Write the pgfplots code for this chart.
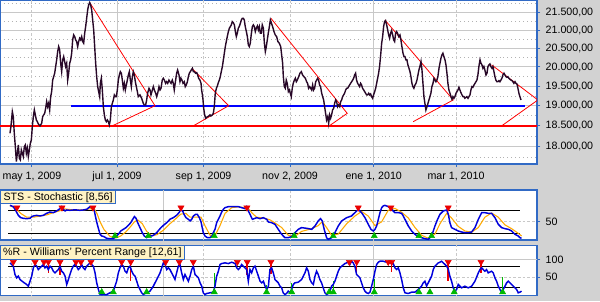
\documentclass[border=0pt]{standalone}
\usepackage{fontspec}
\setmainfont{Liberation Sans}
\usepackage{pgfplots}
\pgfplotsset{compat=1.18}

\definecolor{panelblue}{RGB}{49,106,197}
\definecolor{bggray}{RGB}{210,210,210}
\definecolor{pricecol}{RGB}{40,8,40}
\definecolor{gridgray}{RGB}{200,200,200}
\definecolor{dotgray}{RGB}{178,178,178}
\definecolor{lblbg}{RGB}{255,243,196}
\definecolor{stoorange}{RGB}{255,170,0}
\definecolor{stoblue}{RGB}{0,0,220}
\definecolor{trired}{RGB}{235,0,0}
\definecolor{trigreen}{RGB}{0,185,0}

\pgfplotsset{
  panel/.style={
    scale only axis, width=402.75pt,
    xmin=-22.94, xmax=362.07,
    axis background/.style={fill=white},
    axis line style={panelblue, line width=0.9pt},
    tick align=outside, major tick length=2.5pt, minor tick length=0pt,
    tick style={panelblue, line width=0.75pt},
    ytick pos=right, yticklabel pos=right,
    ticklabel style={font=\fontsize{8}{9}\selectfont, text=black},
    yticklabel style={xshift=0.5pt},
  },
}

\begin{document}
\begin{tikzpicture}
\useasboundingbox (0pt,0pt) rectangle (450pt,-225.75pt);
\fill[bggray] (0pt,0pt) rectangle (450pt,-225.75pt);

% ---------------- main price panel ----------------
\begin{axis}[panel,
  at={(0pt,0pt)}, anchor=north west, height=123pt,
  ymode=log, ymin=17592, ymax=21854,
  xtick={0,61,123,185,245,304},
  xticklabels={{may 1, 2009},{jul 1, 2009},{sep 1, 2009},{nov 2, 2009},{ene 1, 2010},{mar 1, 2010}},
  xtick pos=left,
  minor x tick num=5,
  ytick={18000,18500,19000,19500,20000,20500,21000,21500},
  yticklabels={{18.000,00},{18.500,00},{19.000,00},{19.500,00},{20.000,00},{20.500,00},{21.000,00},{21.500,00}},
  minor ytick={17750,18250,18750,19250,19750,20250,20750,21250,21750},
  ymajorgrids, yminorgrids, xminorgrids,
  major grid style={gridgray, line width=0.75pt},
  minor grid style={dotgray, line width=0.55pt, dash pattern=on 0.55pt off 2.4pt},
]
% vertical grid lines
\addplot[gridgray, line width=0.75pt, dash pattern=on 2pt off 1.5pt, forget plot] coordinates {(0,17000) (0,23000)};
\addplot[gridgray, line width=0.75pt, dash pattern=on 2pt off 1.5pt, forget plot] coordinates {(123,17000) (123,23000)};
\addplot[gridgray, line width=0.75pt, dash pattern=on 2pt off 1.5pt, forget plot] coordinates {(185,17000) (185,23000)};
\addplot[gridgray, line width=0.75pt, dash pattern=on 2pt off 1.5pt, forget plot] coordinates {(304,17000) (304,23000)};
\addplot[gridgray, line width=0.75pt, forget plot] coordinates {(61,17000) (61,23000)};
\addplot[gridgray, line width=0.75pt, forget plot] coordinates {(245,17000) (245,23000)};
% support / resistance lines
\addplot[red, line width=1.2pt, forget plot] coordinates {(-22.94,18500) (362.07,18500)};
\addplot[blue, line width=1.2pt, forget plot] coordinates {(28,19000) (353.4,19000)};
% triangle patterns
\addplot[red, line width=0.6pt, forget plot] coordinates {(41.4,21777) (88.2,19000) (57.5,18500)};
\addplot[red, line width=0.6pt, forget plot] coordinates {(114.7,19965) (141,19000) (115.6,18500)};
\addplot[red, line width=0.6pt, forget plot] coordinates {(171.3,21330) (226,18811) (213.1,18500)};
\addplot[red, line width=0.6pt, forget plot] coordinates {(253,21283) (302,19146) (273.3,18605)};
\addplot[red, line width=0.6pt, forget plot] coordinates {(329.5,20054) (362.7,19146) (336.7,18500)};
% price
\addplot[pricecol, line width=1.05pt] coordinates {
(-15.8,18320) (-15.1,18483) (-14.1,18853) (-13.4,18729) (-12.7,18320) (-11.95,18000) (-11.2,17647)
(-10.5,17842) (-9.8,18040) (-9.08,17725) (-8.36,17686) (-7.64,17921) (-6.93,17842) (-6.21,17764)
(-5.49,18000) (-4.78,18040) (-4.06,17842) (-3.34,17960) (-2.63,17764) (-1.91,17921) (-1.19,18080)
(-0.47,18159) (0.24,18483) (0.96,18729) (1.68,18895) (2.39,18770) (3.11,18646) (3.83,18605)
(4.55,18548) (5.74,18499) (6.94,18564) (7.65,18729) (8.37,18770) (9.09,18811) (9.8,18936)
(10.52,19104) (11.24,18978) (11.95,19062) (12.67,18895) (13.39,19231) (14.1,19358) (14.82,19659)
(15.54,19746) (16.26,19834) (16.97,20009) (17.69,20187) (18.41,20410) (19.12,20546) (19.84,20455)
(20.56,20098) (21.28,19877) (21.99,20187) (22.71,20276) (23.43,20142) (24.14,20009) (24.86,20098)
(25.58,19659) (26.29,19834) (27.01,20098) (27.73,20187) (28.45,20365) (29.16,20728) (29.88,20865)
(30.6,20819) (31.31,20728) (32.03,20682) (32.75,20546) (33.46,20682) (34.18,20773) (34.9,20728)
(35.62,20819) (36.33,20682) (37.05,20637) (37.77,20911) (38.48,21097) (39.2,21330) (39.92,21567)
(40.63,21710) (41.35,21777) (42.07,21710) (42.79,21567) (43.5,21283) (44.22,21004) (44.94,20546)
(45.65,20098) (46.37,19746) (47.09,19487) (47.8,19358) (48.52,19231) (49.0,19573) (49.72,19702)
(50.43,19401) (51.15,18978) (51.87,18770) (52.58,18646) (53.3,18605) (54.02,18646) (54.74,18605)
(55.45,18523) (56.17,18646) (56.89,18978) (57.6,19062) (58.32,19146) (59.04,19273) (59.75,19231)
(60.47,19231) (61.19,19401) (61.9,19659) (62.62,19790) (63.34,19877) (64.06,19834) (64.77,19659)
(65.49,19444) (66.21,19573) (66.92,19401) (67.64,19530) (68.36,19659) (69.07,19790) (69.79,19877)
(70.51,19659) (71.23,19487) (71.94,19746) (72.66,19877) (73.38,19790) (74.09,19616) (74.81,19487)
(75.53,19358) (76.2,19231) (77.4,19273) (78.6,19189) (79.8,19062) (80.5,19020) (81.5,19020)
(82.2,19146) (82.9,19316) (83.9,19444) (84.6,19401) (85.3,19273) (86.3,19401) (87.0,19487)
(87.7,19401) (88.7,19316) (89.4,19231) (90.1,19316) (91.05,19487) (91.8,19401) (92.5,19444)
(93.4,19659) (94.15,19702) (94.9,19659) (95.8,19573) (96.5,19616) (97.3,19573) (98.2,19659)
(98.9,19616) (99.7,19573) (100.6,19659) (101.3,19573) (102.0,19401) (103.0,19659) (103.7,19834)
(104.4,19921) (105.4,19790) (106.1,19616) (106.8,19702) (107.5,19659) (108.3,19573) (109.2,19616)
(109.9,19487) (110.6,19530) (111.4,19616) (112.1,19746) (112.8,19834) (113.5,19877) (114.2,19921)
(115.0,19965) (115.7,19877) (116.4,19877) (117.3,19834) (118.1,19851) (118.8,19790) (119.5,19702)
(120.4,19659) (121.2,19573) (121.6,19401) (122.4,19231) (123.1,18936) (123.8,18770) (124.5,18688)
(125.2,18712) (125.9,18729) (126.9,18745) (127.6,18770) (128.3,18745) (129.3,18770) (130.0,18811)
(130.7,18978) (131.4,19316) (132.2,19444) (132.9,19504) (133.6,19590) (134.3,19659) (135.0,19746)
(135.7,19877) (136.5,20009) (137.2,20187) (137.9,20365) (138.6,20546) (139.3,20682) (140.0,20819)
(140.8,20958) (141.5,21050) (142.2,21097) (142.9,21144) (143.6,21237) (144.3,21209) (145.1,21144)
(145.8,20958) (146.5,20819) (147.2,20911) (147.9,21050) (148.6,21097) (149.4,21190) (150.1,21283)
(150.8,21330) (151.5,21330) (152.2,21283) (152.9,21097) (153.7,20958) (154.4,20819) (155.1,20591)
(155.8,20546) (156.5,20637) (157.3,20911) (158.0,21097) (158.7,21144) (159.4,21097) (160.1,20958)
(160.8,21050) (161.6,21116) (162.3,21004) (163.0,21097) (163.7,20911) (164.4,20911) (165.1,21144)
(165.9,21050) (166.6,20637) (167.3,20410) (168.0,20546) (168.7,20728) (169.4,20911) (170.2,21097)
(170.9,21283) (172.5,21097) (173.5,20958) (174.4,20865) (175.4,20819) (176.3,20682) (177.3,20637)
(178.3,20546) (179.0,20320) (179.7,20098) (180.2,19746) (180.9,19487) (181.6,19444) (182.3,19659)
(183.0,19573) (183.8,19358) (184.5,19401) (185.2,19316) (185.9,19231) (186.6,19444) (187.3,19573)
(188.1,19659) (188.8,19702) (189.5,19616) (190.2,19659) (191.2,19746) (192.1,19834) (193.1,19877)
(194.0,19790) (195.0,19746) (196.0,19702) (196.9,19616) (197.6,19573) (198.3,19444) (199.1,19487)
(199.8,19444) (200.5,19401) (201.2,19530) (201.9,19401) (202.6,19444) (203.4,19616) (204.1,19659)
(204.8,19702) (205.5,19659) (206.2,19530) (206.9,19487) (207.7,19316) (208.4,19231) (209.1,19146)
(209.8,18978) (210.5,18811) (211.2,18646) (212.0,18729) (212.7,18564) (213.4,18770) (214.1,18688)
(214.8,18770) (215.5,18895) (216.3,18936) (217.0,19062) (217.7,19146) (218.4,19104) (219.1,18978)
(219.8,19020) (220.6,18978) (221.3,19104) (222.0,19146) (222.7,19231) (223.4,19273) (224.1,19316)
(224.9,19401) (225.6,19444) (226.3,19444) (227.0,19487) (227.7,19530) (228.4,19573) (229.2,19616)
(229.9,19659) (230.6,19702) (231.3,19790) (232.0,19834) (232.7,19659) (233.5,19573) (234.2,19530)
(234.9,19487) (235.6,19573) (236.3,19530) (237.0,19444) (237.8,19401) (238.5,19358) (239.2,19316)
(239.9,19273) (240.6,19273) (241.4,19316) (242.1,19273) (242.8,19299) (243.5,19231) (244.2,19189)
(244.9,19273) (245.7,19358) (246.4,19444) (247.1,19573) (247.8,19702) (248.5,19834) (249.2,20009)
(250.0,20320) (250.7,20637) (251.4,20819) (252.1,21097) (252.8,21237) (253.5,21264) (254.3,21144)
(255.0,21004) (255.7,20865) (256.4,20773) (257.1,20911) (257.8,20986) (258.6,20865) (259.3,20728)
(260.0,20682) (260.7,20911) (261.4,20958) (262.1,20911) (262.9,20819) (263.8,20865) (264.5,20728)
(265.2,20546) (266.0,20365) (266.7,20276) (267.4,20276) (268.1,20187) (268.8,20187) (269.5,20054)
(270.3,19965) (271.0,19877) (271.7,19746) (272.4,19573) (273.1,19487) (273.8,19444) (274.6,19530)
(275.3,19573) (276.0,19659) (276.7,19790) (277.4,19921) (278.1,20009) (278.9,20142) (279.6,19921)
(280.3,19573) (281.0,19231) (281.7,19062) (282.4,18895) (283.2,18978) (283.9,19062) (284.6,19146)
(285.3,19231) (286.0,19316) (286.7,19487) (287.5,19573) (288.2,19702) (288.9,19659) (289.6,19616)
(290.3,19659) (291.0,19746) (291.8,19965) (292.5,20098) (293.2,20231) (293.9,20320) (294.6,20365)
(295.3,20276) (296.1,20187) (296.8,20054) (297.5,19834) (298.2,19573) (298.9,19401) (299.7,19316)
(300.4,19231) (301.1,19163) (301.8,19231) (302.5,19189) (303.2,19231) (304.0,19316) (304.7,19358)
(305.4,19401) (306.1,19470) (306.8,19401) (307.5,19333) (308.3,19273) (309.0,19231) (309.7,19231)
(310.4,19189) (311.1,19214) (311.8,19231) (312.6,19189) (313.3,19231) (314.0,19273) (314.7,19401)
(315.4,19487) (316.1,19470) (316.9,19530) (317.6,19573) (318.3,19616) (319.0,19659) (319.7,19790)
(320.4,20009) (321.2,20187) (321.9,20098) (322.6,20054) (323.3,19965) (324.0,20009) (324.7,19921)
(325.5,19790) (326.2,19834) (326.9,20009) (327.6,20054) (328.3,20080) (329.0,20009) (329.8,19965)
(330.5,20009) (331.2,19877) (331.9,19746) (332.6,19659) (333.3,19616) (334.1,19616) (334.8,19642)
(335.5,19616) (336.2,19659) (336.9,19702) (337.6,19790) (338.4,19834) (339.1,19790) (339.8,19746)
(340.5,19729) (341.2,19746) (341.9,19702) (342.7,19677) (343.4,19659) (344.1,19642) (344.8,19616)
(345.5,19573) (346.3,19616) (347.0,19573) (347.7,19556) (348.4,19444) (349.1,19316) (349.8,19231)
(350.6,19146)
};
\end{axis}

% ---------------- Stochastic panel ----------------
\begin{axis}[panel,
  at={(0pt,-142.5pt)}, anchor=north west, height=37.5pt,
  ymin=2.5, ymax=133,
  xtick=\empty,
  ytick={50}, yticklabels={50},
  ymajorgrids, major grid style={gridgray, line width=0.75pt, dash pattern=on 2pt off 1.5pt},
]
\addplot[gridgray, line width=0.75pt, dash pattern=on 2pt off 1.5pt, forget plot] coordinates {(0,-10) (0,200)};
\addplot[gridgray, line width=0.75pt, dash pattern=on 2pt off 1.5pt, forget plot] coordinates {(123,-10) (123,200)};
\addplot[gridgray, line width=0.75pt, dash pattern=on 2pt off 1.5pt, forget plot] coordinates {(185,-10) (185,200)};
\addplot[gridgray, line width=0.75pt, dash pattern=on 2pt off 1.5pt, forget plot] coordinates {(304,-10) (304,200)};
\addplot[gridgray, line width=0.75pt, forget plot] coordinates {(94,-10) (94,200)};
\addplot[gridgray, line width=0.75pt, forget plot] coordinates {(245,-10) (245,200)};
\addplot[black, line width=0.9pt, forget plot] coordinates {(-17,80) (350,80)};
\addplot[black, line width=0.9pt, forget plot] coordinates {(-17,20) (350,20)};
% %D (orange)
\addplot[stoorange, line width=0.8pt] coordinates {
(-15.8,92) (-11.5,85) (-8.1,72) (-3.8,62) (0.96,62) (5.7,65) (10.5,68) (15.3,74) (20.1,79) (22.5,84)
(27.2,82) (32.0,81) (36.8,81) (41.6,84) (44.7,84) (46.8,70) (48.8,50) (51.6,30) (55.9,12) (60.2,8)
(63.6,13) (67.4,24) (70.8,38) (73.4,50) (75.8,55) (79.1,45) (82.2,25) (85.8,14) (89.4,16) (94.2,28)
(98.9,45) (103.7,60) (106.6,70) (110.4,72) (113.3,62) (117.4,62) (121.2,62) (124.0,40) (127.6,15)
(131.2,14) (134.8,40) (138.4,72) (143.2,87) (147.9,89) (152.7,87) (155.1,85) (158.0,72) (161.1,62)
(165.9,60) (170.7,55) (174.2,47) (179.0,35) (183.7,15) (188.5,12) (193.3,25) (200.5,32) (205.2,40)
(208.1,50) (211.2,35) (214.8,15) (219.6,18) (225.6,45) (231.5,65) (236.3,77) (241.1,65) (245.9,40)
(250.7,50) (255.4,80) (260.2,85) (265.0,75) (269.8,60) (274.6,35) (279.3,15) (284.1,7) (288.9,18)
(292.5,45) (297.3,72) (300.8,60) (305.6,38) (310.4,26) (315.2,23) (320.0,35) (324.7,62) (329.5,73)
(334.3,62) (339.1,42) (343.9,32) (348.6,20) (351.0,13)
};
% %K (blue)
\addplot[stoblue, line width=1.1pt] coordinates {
(-15.8,93.0) (-13.4,89.6) (-11.5,78.3) (-9.8,66.9) (-8.1,60.8) (-6.2,59.1) (-3.8,58.2) (-1.4,59.1)
(-0.2,63.5) (0.96,65.2) (3.3,66.9) (5.7,65.2) (8.1,66.9) (10.5,72.2) (12.9,75.6) (15.3,73.9)
(17.7,78.3) (20.1,84.3) (21.3,89.6) (22.5,82.6) (23.7,78.3) (24.9,80.9) (27.2,80.0) (29.6,80.9)
(32.0,80.9) (34.4,80.0) (36.8,80.9) (39.2,82.6) (41.6,89.6) (43.5,87.0) (44.7,78.3) (45.7,60.8)
(46.8,43.5) (47.8,30.4) (48.8,17.3) (50.0,13.0) (51.6,11.3) (53.5,6.9) (55.9,6.0) (58.3,6.0)
(60.2,11.3) (61.9,17.3) (63.6,26.0) (65.5,30.4) (67.4,34.8) (69.1,40.8) (70.8,47.8) (72.2,56.5)
(73.4,63.5) (74.6,59.1) (75.8,47.8) (77.4,34.8) (79.1,21.7) (80.5,13.0) (82.2,8.65) (83.4,11.3)
(84.6,14.7) (85.8,13.0) (87.0,14.7) (89.4,21.7) (91.8,32.1) (94.2,40.8) (96.6,47.8) (98.9,56.5)
(101.3,60.8) (103.7,66.9) (105.4,73.9) (106.6,80.9) (108.0,78.3) (109.0,69.6) (110.4,60.8)
(112.1,56.5) (113.3,52.2) (114.5,56.5) (115.7,65.2) (117.4,69.6) (118.5,69.6) (120.0,60.8)
(121.2,49.5) (122.8,21.7) (124.0,13.0) (125.7,8.65) (127.6,8.65) (129.1,13.0) (130.0,21.7)
(131.2,30.4) (132.4,47.8) (133.6,56.5) (134.8,65.2) (136.0,75.6) (137.2,82.6) (138.4,87.0)
(140.8,89.6) (143.2,89.6) (145.6,89.6) (147.9,89.6) (150.3,87.0) (152.7,84.3) (153.9,89.6)
(155.1,78.3) (156.3,69.6) (158.0,56.5) (159.9,59.1) (161.1,60.8) (163.5,58.2) (165.9,60.8)
(168.3,56.5) (169.5,49.5) (171.8,47.8) (174.2,43.5) (176.6,30.4) (179.0,17.3) (181.3,8.65)
(183.7,8.65) (186.1,11.3) (188.5,21.7) (190.9,30.4) (193.3,34.8) (196.9,33.0) (200.5,30.4)
(202.9,39.1) (205.2,52.2) (206.9,58.2) (208.1,52.2) (209.5,30.4) (211.2,8.65) (212.4,4.3)
(214.8,8.65) (217.2,21.7) (219.6,39.1) (222.0,52.2) (225.6,60.8) (229.1,65.2) (231.5,73.9)
(233.9,82.6) (236.3,73.9) (238.7,60.8) (241.1,43.5) (243.0,30.4) (244.7,26.0) (245.9,30.4)
(247.1,39.1) (248.3,56.5) (249.5,73.9) (250.7,87.0) (251.8,91.3) (253.0,93.0) (255.4,89.6)
(257.8,82.6) (260.2,73.9) (262.6,73.9) (265.0,72.2) (266.2,65.2) (267.4,56.5) (269.8,39.1)
(272.2,26.0) (274.6,17.3) (276.9,11.3) (279.3,8.65) (281.7,6.0) (284.1,4.3) (286.5,13.0)
(287.7,26.0) (288.9,39.1) (290.8,56.5) (292.5,69.6) (294.9,78.3) (297.3,80.9) (298.5,69.6)
(299.6,47.8) (300.8,34.8) (303.2,30.4) (305.6,26.0) (308.0,23.4) (310.4,21.7) (312.8,21.7)
(315.2,23.4) (317.6,34.8) (320.0,56.5) (322.4,73.9) (324.7,73.9) (327.1,72.2) (329.5,72.2)
(331.9,60.8) (334.3,43.5) (336.7,34.8) (339.1,32.1) (341.5,30.4) (343.9,26.0) (346.3,17.3)
(348.6,13.0) (349.8,8.65) (351.0,6.9)
};
\addplot[only marks, mark=triangle*, mark size=2.6pt, mark options={fill=trired, draw=trired, rotate=180}] coordinates {
(-10.8,86.8) (21.5,86.8) (43.7,86.8) (106.8,86.8) (154.1,86.8) (233.9,86.8) (257.3,86.8) (298.4,86.8)};
\addplot[only marks, mark=triangle*, mark size=2.6pt, mark options={fill=trigreen, draw=trigreen}] coordinates {
(59.5,13) (83.4,13) (130.7,13) (188.0,13) (216.0,13) (245.4,13) (277.4,13) (286.5,13)};
\node[anchor=north west, fill=lblbg, draw=panelblue, line width=0.75pt, font=\fontsize{8}{9}\selectfont,
  inner xsep=2.3pt, inner ysep=1pt, text height=6.3pt, text depth=1.8pt] at (rel axis cs:0,1) {STS - Stochastic [8,56]};
\end{axis}

% ---------------- Williams %R panel ----------------
\begin{axis}[panel,
  at={(0pt,-184pt)}, anchor=north west, height=37.5pt,
  ymin=-2.3, ymax=140.6,
  xtick=\empty,
  ytick={50,100}, yticklabels={50,100},
  ymajorgrids, major grid style={gridgray, line width=0.75pt, dash pattern=on 2pt off 1.5pt},
]
\addplot[gridgray, line width=0.75pt, forget plot] coordinates {(-30,100) (370,100)};
\addplot[gridgray, line width=0.75pt, dash pattern=on 2pt off 1.5pt, forget plot] coordinates {(0,-10) (0,200)};
\addplot[gridgray, line width=0.75pt, dash pattern=on 2pt off 1.5pt, forget plot] coordinates {(123,-10) (123,200)};
\addplot[gridgray, line width=0.75pt, dash pattern=on 2pt off 1.5pt, forget plot] coordinates {(185,-10) (185,200)};
\addplot[gridgray, line width=0.75pt, dash pattern=on 2pt off 1.5pt, forget plot] coordinates {(304,-10) (304,200)};
\addplot[gridgray, line width=0.75pt, forget plot] coordinates {(94,-10) (94,200)};
\addplot[gridgray, line width=0.75pt, forget plot] coordinates {(245,-10) (245,200)};
\addplot[black, line width=0.9pt, forget plot] coordinates {(-17,80) (350,80)};
\addplot[black, line width=0.9pt, forget plot] coordinates {(-17,20) (350,20)};
% signal spikes
\addplot[trired, line width=1.1pt, forget plot] coordinates {(11.7,92) (11.7,62)};
\addplot[trired, line width=1.1pt, forget plot] coordinates {(20.1,92) (20.1,55)};
\addplot[trired, line width=1.1pt, forget plot] coordinates {(70.8,92) (70.8,38)};
\addplot[trired, line width=1.1pt, forget plot] coordinates {(154.3,92) (154.3,57)};
\addplot[trired, line width=1.1pt, forget plot] coordinates {(171.3,92) (171.3,60)};
\addplot[trired, line width=1.1pt, forget plot] coordinates {(232.8,92) (232.8,55)};
\addplot[trired, line width=1.1pt, forget plot] coordinates {(257.9,92) (257.9,65)};
\addplot[trired, line width=1.1pt, forget plot] coordinates {(298.4,92) (298.4,38)};
\addplot[trired, line width=1.1pt, forget plot] coordinates {(321.9,92) (321.9,62)};
\addplot[trigreen, line width=1.1pt, forget plot] coordinates {(130.7,7) (130.7,62)};
\addplot[trigreen, line width=1.1pt, forget plot] coordinates {(168.2,7) (168.2,28)};
\addplot[trigreen, line width=1.1pt, forget plot] coordinates {(186.1,7) (186.1,33)};
\addplot[trigreen, line width=1.1pt, forget plot] coordinates {(216.0,7) (216.0,38)};
\addplot[trigreen, line width=1.1pt, forget plot] coordinates {(245.4,7) (245.4,45)};
\addplot[trigreen, line width=1.1pt, forget plot] coordinates {(337.4,7) (337.4,50)};
\addplot[stoblue, line width=1.1pt] coordinates {
(-15.8,90.5) (-13.4,81.0) (-12.2,57.2) (-11.0,47.7) (-9.8,52.5) (-8.6,42.9) (-6.2,35.3) (-3.8,28.7)
(-2.6,23.9) (-1.4,38.2) (-0.2,52.5) (0.96,76.3) (2.2,85.8) (3.4,81.0) (4.5,71.5) (5.7,76.3) (6.9,81.0)
(8.1,85.8) (9.3,76.3) (10.5,81.0) (11.7,71.5) (12.9,81.0) (14.1,76.3) (15.3,66.7) (16.5,62.0)
(17.7,66.7) (18.9,71.5) (20.1,81.0) (21.3,66.7) (22.5,62.0) (23.7,52.5) (24.9,28.7) (26.1,42.9)
(27.2,57.2) (28.4,71.5) (29.6,81.0) (30.8,85.8) (32.0,81.0) (33.2,71.5) (34.4,76.3) (35.6,85.8)
(36.8,76.3) (38.0,71.5) (39.2,81.0) (40.4,85.8) (41.6,90.5) (42.8,85.8) (44.0,81.0) (45.2,62.0)
(46.4,33.4) (47.6,14.4) (48.8,0.1) (50.0,0) (51.1,0.1) (53.5,0) (55.9,4.9) (58.3,9.6) (59.5,23.9)
(60.7,38.2) (61.9,62.0) (63.1,76.3) (64.3,85.8) (65.5,81.0) (66.7,66.7) (67.9,62.0) (69.1,76.3)
(70.3,81.0) (71.5,66.7) (72.7,57.2) (73.9,52.5) (75.1,38.2) (76.2,23.9) (77.4,14.4) (78.6,4.9)
(79.8,0.1) (81.0,3.0) (82.2,4.9) (84.6,9.6) (87.0,23.9) (89.4,42.9) (91.8,62.0) (93.0,76.3)
(94.2,90.5) (95.4,85.8) (96.6,71.5) (97.8,76.3) (98.9,71.5) (100.1,62.0) (101.3,52.5) (102.5,42.9)
(103.7,62.0) (104.9,81.0) (106.1,85.8) (107.3,62.0) (108.5,42.9) (109.7,57.2) (110.9,47.7)
(112.1,38.2) (113.3,52.5) (114.5,71.5) (115.7,81.0) (116.9,57.2) (118.1,52.5) (119.3,47.7)
(120.5,33.4) (121.7,23.9) (122.8,4.9) (124.0,0.1) (125.2,3.0) (127.6,4.9) (130.0,6.8) (131.2,23.9)
(132.4,52.5) (133.6,66.7) (134.8,85.8) (136.0,88.6) (138.4,90.5) (140.8,88.6) (143.2,92.4)
(145.6,88.6) (146.8,76.3) (147.9,71.5) (149.1,76.3) (150.3,85.8) (151.5,81.0) (153.9,71.5)
(155.1,38.2) (156.3,71.5) (157.5,62.0) (158.7,76.3) (159.9,81.0) (161.1,66.7) (162.3,52.5)
(163.5,38.2) (164.7,33.4) (165.9,38.2) (167.1,23.9) (168.3,14.4) (169.5,23.9) (170.6,71.5)
(171.8,76.3) (173.0,62.0) (174.2,42.9) (175.4,38.2) (176.6,33.4) (177.8,23.9) (179.0,19.1)
(180.1,4.9) (181.3,0.1) (182.5,3.0) (183.7,9.6) (184.9,4.9) (186.1,14.4) (187.3,28.7) (188.5,33.4)
(190.9,35.3) (193.3,42.9) (195.7,62.0) (196.9,76.3) (198.1,66.7) (199.3,42.9) (200.5,33.4)
(201.7,28.7) (202.9,52.5) (204.0,66.7) (205.2,57.2) (206.4,42.9) (207.6,33.4) (208.8,19.1)
(210.0,4.9) (211.2,0.1) (212.4,3.0) (213.6,9.6) (214.8,23.9) (216.0,28.7) (217.2,38.2) (218.4,52.5)
(219.6,66.7) (220.8,76.3) (222.0,81.0) (224.4,88.6) (226.8,92.4) (227.9,85.8) (229.1,95.3)
(230.3,90.5) (231.5,81.0) (232.7,57.2) (233.9,52.5) (235.1,47.7) (236.3,33.4) (237.5,19.1)
(238.7,9.6) (239.9,4.9) (241.1,3.0) (242.3,6.8) (243.5,23.9) (244.7,42.9) (245.9,66.7) (247.1,85.8)
(248.3,92.4) (249.5,95.3) (251.8,95.3) (254.2,92.4) (256.6,90.5) (259.0,88.6) (260.2,76.3)
(261.4,71.5) (262.6,76.3) (263.8,62.0) (265.0,42.9) (266.2,19.1) (267.4,4.9) (269.8,3.0) (272.2,6.8)
(274.6,6.8) (276.9,14.4) (278.1,19.1) (279.3,23.9) (280.5,33.4) (281.7,38.2) (282.9,23.9) (284.1,33.4)
(285.3,42.9) (286.5,52.5) (287.7,71.5) (288.9,81.0) (290.1,85.8) (291.3,90.5) (292.5,92.4)
(293.7,95.3) (294.9,90.5) (296.1,85.8) (297.3,81.0) (298.5,71.5) (299.6,52.5) (300.8,38.2)
(302.0,19.1) (303.2,9.6) (304.4,14.4) (305.6,28.7) (306.8,23.9) (308.0,19.1) (310.4,23.9)
(312.8,19.1) (315.2,23.9) (317.6,38.2) (320.0,62.0) (321.2,71.5) (322.4,76.3) (323.5,71.5)
(324.7,66.7) (325.9,71.5) (327.1,62.0) (329.5,66.7) (330.7,62.0) (331.9,47.7) (333.1,38.2)
(334.3,23.9) (335.5,14.4) (336.7,6.8) (337.9,14.4) (339.1,23.9) (340.3,33.4) (341.5,38.2)
(342.7,33.4) (343.9,28.7) (345.1,23.9) (346.3,19.1) (347.5,14.4) (348.6,4.9) (349.8,6.8) (351.0,9.6)
};
\addplot[only marks, mark=triangle*, mark size=2.6pt, mark options={fill=trired, draw=trired, rotate=180}] coordinates {
(-13.4,92.9) (2.2,92.9) (8.6,92.9) (11.7,92.9) (20.1,92.9) (31.5,92.9) (35.1,92.9) (42.3,92.9)
(64.3,92.9) (70.8,92.9) (95.8,92.9) (105.6,92.9) (115.6,92.9) (147.2,92.9) (154.3,92.9) (171.3,92.9)
(227.5,92.9) (232.8,92.9) (255.4,92.9) (257.9,92.9) (298.4,92.9) (321.9,92.9)};
\addplot[only marks, mark=triangle*, mark size=2.6pt, mark options={fill=trigreen, draw=trigreen}] coordinates {
(50.0,7.1) (58.3,7.1) (82.2,7.1) (130.7,7.1) (168.2,7.1) (186.2,7.1) (213.1,7.1) (216.0,7.1)
(245.4,7.1) (277.4,7.1) (285.3,7.1) (302.7,7.1) (337.4,7.1)};
\node[anchor=north west, fill=lblbg, draw=panelblue, line width=0.75pt, font=\fontsize{8}{9}\selectfont,
  inner xsep=2pt, inner ysep=1pt, text height=6.3pt, text depth=1.8pt] at (rel axis cs:0,1) {\%R - Williams' Percent Range [12,61]};
\end{axis}
\end{tikzpicture}
\end{document}
